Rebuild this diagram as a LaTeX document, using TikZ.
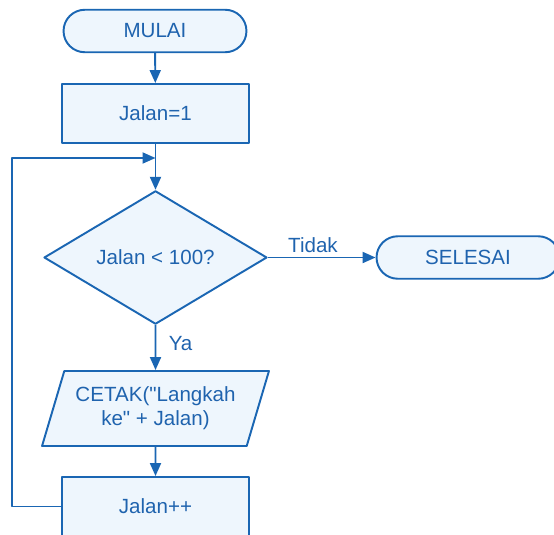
\documentclass[tikz,border=0pt]{standalone}
\usepackage{fontspec}
\setmainfont{Liberation Sans}
\usetikzlibrary{positioning, arrows.meta, shapes.geometric, shapes.misc}
\definecolor{flowink}{HTML}{1A66B3}
\definecolor{flowtxt}{HTML}{1F63AE}
\definecolor{flowfill}{HTML}{EEF6FD}

\begin{document}
\begin{tikzpicture}[
  x=0.02cm, y=-0.02cm,
  line width=1.1pt, line join=round,
  >={Triangle[length=0.26cm, width=0.22cm]},
  every node/.style = {font=\fontsize{11.7}{13.8}\selectfont, text=flowtxt},
  term/.style = {draw=flowink, fill=flowfill, rounded rectangle,
                 minimum width=3.8cm, minimum height=0.85cm, inner sep=2pt},
  blk/.style  = {draw=flowink, fill=flowfill, rectangle,
                 minimum width=3.74cm, minimum height=1.18cm, inner sep=2pt},
  dec/.style  = {draw=flowink, fill=flowfill, diamond,
                 minimum width=4.46cm, minimum height=2.66cm, inner sep=0pt},
  io/.style   = {draw=flowink, fill=flowfill, trapezium,
                 trapezium left angle=68, trapezium right angle=112,
                 trapezium stretches, minimum width=4.54cm,
                 minimum height=1.5cm, inner sep=2pt, align=center},
  lbl/.style  = {inner sep=2pt}
]
\useasboundingbox (0,0) rectangle (554,534);

% kolom utama x=155
\node[term] (mulai)   at (155,31)    {MULAI};
\node[blk]  (init)    at (155.5,113.5) {Jalan=1};
\node[dec]  (cond)    at (155.5,257.5) {Jalan < 100?};
\node[term] (selesai) at (468,257.5) {SELESAI};
\node[io]   (cetak)   at (155.5,408.5)
  {CETAK(\textquotedbl Langkah\\ke\textquotedbl{} + Jalan)};
\node[blk]  (inc)     at (155.5,506.5) {Jalan++};

% titik balik loop
\coordinate (loopl) at (12,158);
\coordinate (join)  at (155.5,158);

% alur
\draw[draw=flowink, ->] (mulai) -- (init);
\draw[draw=flowink, ->] (init) -- (cond);
\draw[draw=flowink, ->] (cond) -- node[lbl, above, xshift=-5] {Tidak} (selesai);
\draw[draw=flowink, ->] (cond) -- node[lbl, right, pos=0.4, xshift=5] {Ya} (cetak);
\draw[draw=flowink, ->] (cetak) -- (inc);

% kembali ke kondisi
\draw[draw=flowink, ->] (inc.west) -| (loopl) -- (join);

\end{tikzpicture}
\end{document}
